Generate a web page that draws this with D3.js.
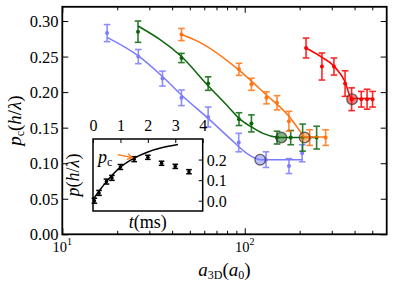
<!DOCTYPE html>
<html>
<head>
<meta charset="utf-8">
<script src="https://cdn.jsdelivr.net/npm/d3@7"></script>
<style>
  body { margin: 0; background: #fff; }
  text { font-family: "Liberation Serif", "Times New Roman", serif; fill: #000; }
</style>
</head>
<body>
<div id="chart"></div>
<script>
// ---- data ----
const yTicks = [0, 0.05, 0.10, 0.15, 0.20, 0.25, 0.30];
const xMajor = [10, 100];
const xMinor = [20, 30, 40, 50, 60, 70, 80, 90, 200, 300, 400, 500];

const blueA   = [17.6, 26.1, 35.4, 45.0, 63.0, 92.7, 130.8, 174.8, 206.4];
const blueP   = [0.283, 0.250, 0.219, 0.192, 0.165, 0.129, 0.105, 0.096, 0.114];
const blueErr = [0.012, 0.010, 0.0105, 0.011, 0.014, 0.013, 0.011, 0.0105, 0.012];
const blueFitA = [17.6, 26.1, 35.4, 45, 63, 82.8, 100, 112, 121.6, 206];
const blueFitP = [0.277, 0.251, 0.222, 0.196, 0.163, 0.135, 0.116, 0.108, 0.105, 0.105];
const blueCrit = [121.6, 0.105];

const greenA   = [26.0, 45.0, 63.0, 93.0, 108.8, 150.3, 178.6, 207.7, 247.8];
const greenP   = [0.285, 0.248, 0.212, 0.162, 0.156, 0.136, 0.136, 0.136, 0.136];
const greenErr = [0.015, 0.0065, 0.0095, 0.009, 0.012, 0.009, 0.010, 0.019, 0.016];
const greenFitA = [26, 45, 63, 82.8, 93, 108.8, 125.9, 150, 158.8, 248];
const greenFitP = [0.293, 0.250, 0.209, 0.177, 0.163, 0.151, 0.142, 0.1365, 0.136, 0.136];
const greenCrit = [158.8, 0.136];

const orangeA   = [45.0, 93.0, 108.8, 131.5, 150.3, 174.6, 226.9, 277.6];
const orangeP   = [0.281, 0.232, 0.211, 0.192, 0.185, 0.159, 0.136, 0.136];
const orangeErr = [0.0085, 0.0085, 0.0085, 0.0085, 0.010, 0.014, 0.011, 0.011];
const orangeFitA = [45, 56.7, 93, 131.5, 174.8, 202.5, 213, 277.6];
const orangeFitP = [0.281, 0.270, 0.231, 0.196, 0.166, 0.144, 0.137, 0.137];
const orangeCrit = [213, 0.136];

const redA   = [216.8, 264.9, 308.3, 354.8, 385.3, 435.4, 468.4, 502];
const redP   = [0.262, 0.236, 0.236, 0.212, 0.190, 0.190, 0.190, 0.190];
const redErr = [0.014, 0.019, 0.012, 0.018, 0.016, 0.011, 0.014, 0.011];
const redFitA = [216.8, 264.9, 308.3, 354.8, 385, 502];
const redFitP = [0.262, 0.249, 0.2367, 0.2146, 0.191, 0.191];
const redCrit = [387.7, 0.190];

const insetTTicks = [0, 1, 2, 3, 4];
const insetPTicks = [0.0, 0.1, 0.2];
const insetT   = [0.05, 0.22, 0.49, 0.69, 1.0, 1.5, 2.0, 2.5, 3.0, 3.5];
const insetP   = [0.0, 0.038, 0.093, 0.111, 0.164, 0.202, 0.211, 0.182, 0.167, 0.141];
const insetErr = [0.012, 0.012, 0.012, 0.012, 0.012, 0.012, 0.010, 0.010, 0.010, 0.010];
const insetFitT = [0, 0.25, 0.5, 1, 1.5, 2, 2.5, 3.1];
const insetFitP = [0.005, 0.052, 0.094, 0.163, 0.207, 0.237, 0.257, 0.273];
const insetPc = [1.5, 0.202];

const series = [
  { color: "#7b7bff", a: blueA, p: blueP, e: blueErr, fa: blueFitA, fp: blueFitP, crit: blueCrit },
  { color: "#0a660a", a: greenA, p: greenP, e: greenErr, fa: greenFitA, fp: greenFitP, crit: greenCrit },
  { color: "#ff7410", a: orangeA, p: orangeP, e: orangeErr, fa: orangeFitA, fp: orangeFitP, crit: orangeCrit },
  { color: "#ff0000", a: redA, p: redP, e: redErr, fa: redFitA, fp: redFitP, crit: redCrit }
];

// ---- layout ----
const width = 394, height = 285;
const plot = { left: 62.3, right: 386.7, top: 6.8, bottom: 234.3 };
const inset = { left: 93, right: 202.7, top: 139, bottom: 211 };

const svg = d3.select("#chart").append("svg")
    .attr("width", width)
    .attr("height", height);

const x = d3.scaleLog().domain([10, 600]).range([plot.left, plot.right]);
const y = d3.scaleLinear().domain([0, 0.32]).range([plot.bottom, plot.top]);

function styleAxis(g) {
  g.select(".domain").remove();
  g.selectAll(".tick line").attr("stroke", "#000").attr("stroke-width", 1);
}

// ticks (inward, all four sides)
svg.append("g").attr("transform", `translate(0,${plot.bottom})`)
   .call(d3.axisBottom(x).tickValues(xMajor).tickSize(-6).tickFormat(""))
   .call(styleAxis);
svg.append("g").attr("transform", `translate(0,${plot.bottom})`)
   .call(d3.axisBottom(x).tickValues(xMinor).tickSize(-3.5).tickFormat(""))
   .call(styleAxis);
svg.append("g").attr("transform", `translate(0,${plot.top})`)
   .call(d3.axisTop(x).tickValues(xMajor).tickSize(-6).tickFormat(""))
   .call(styleAxis);
svg.append("g").attr("transform", `translate(0,${plot.top})`)
   .call(d3.axisTop(x).tickValues(xMinor).tickSize(-3.5).tickFormat(""))
   .call(styleAxis);

svg.append("g").attr("transform", `translate(${plot.left},0)`)
   .call(d3.axisLeft(y).tickValues(yTicks).tickSize(-6).tickPadding(3.8).tickFormat(d3.format(".2f")))
   .call(styleAxis)
   .call(g => g.selectAll("text").attr("font-size", "16.5px").attr("dy", "0.34em")
       .style("font-family", "'Liberation Serif', serif"));
svg.append("g").attr("transform", `translate(${plot.right},0)`)
   .call(d3.axisRight(y).tickValues(yTicks).tickSize(-6).tickFormat(""))
   .call(styleAxis);

// log x labels 10^1, 10^2
const xl = svg.append("g");
xMajor.forEach(v => {
  const t = xl.append("text")
      .attr("x", x(v))
      .attr("y", 251.5)
      .attr("text-anchor", "middle")
      .attr("font-size", "14.5px");
  t.append("tspan").text("10");
  t.append("tspan").attr("font-size", "10px").attr("dy", -6.5).text(Math.round(Math.log10(v)));
});

// axis labels
const xLab = svg.append("text")
    .attr("x", (plot.left + plot.right) / 2)
    .attr("y", 275.5)
    .attr("text-anchor", "middle")
    .attr("font-size", "19px");
xLab.append("tspan").attr("font-style", "italic").text("a");
xLab.append("tspan").attr("font-size", "12px").attr("dy", 3).text("3D");
xLab.append("tspan").attr("dy", -3).text("(");
xLab.append("tspan").attr("font-style", "italic").text("a");
xLab.append("tspan").attr("font-size", "12px").attr("dy", 3).text("0");
xLab.append("tspan").attr("dy", -3).text(")");

const yLab = svg.append("text")
    .attr("transform", `translate(21,${(plot.top + plot.bottom) / 2}) rotate(-90)`)
    .attr("text-anchor", "middle")
    .attr("font-size", "19px");
yLab.append("tspan").attr("font-style", "italic").text("p");
yLab.append("tspan").attr("font-size", "12px").attr("dy", 3).text("c");
yLab.append("tspan").attr("dy", -3).text("(");
yLab.append("tspan").attr("font-style", "italic").text("h");
yLab.append("tspan").text("/");
yLab.append("tspan").attr("font-style", "italic").text("λ");
yLab.append("tspan").text(")");

// ---- series ----
const line = d3.line().curve(d3.curveMonotoneX);

series.forEach(s => {
  const g = svg.append("g");
  const fit = s.fa.map((a, i) => [x(a), y(s.fp[i])]);
  g.append("path")
   .attr("d", line(fit))
   .attr("fill", "none")
   .attr("stroke", s.color)
   .attr("stroke-width", 1.5);

  const pts = s.a.map((a, i) => ({ a: a, p: s.p[i], e: s.e[i] }));
  const eb = g.selectAll("g.eb").data(pts).enter().append("g")
      .attr("stroke", s.color)
      .attr("stroke-width", 1.6)
      .attr("opacity", 0.85);
  eb.append("line")
    .attr("x1", d => x(d.a)).attr("x2", d => x(d.a))
    .attr("y1", d => y(d.p - d.e)).attr("y2", d => y(d.p + d.e));
  eb.append("line")
    .attr("x1", d => x(d.a) - 3.3).attr("x2", d => x(d.a) + 3.3)
    .attr("y1", d => y(d.p - d.e)).attr("y2", d => y(d.p - d.e));
  eb.append("line")
    .attr("x1", d => x(d.a) - 3.3).attr("x2", d => x(d.a) + 3.3)
    .attr("y1", d => y(d.p + d.e)).attr("y2", d => y(d.p + d.e));

  g.selectAll("circle.pt").data(pts).enter().append("circle")
   .attr("class", "pt")
   .attr("cx", d => x(d.a))
   .attr("cy", d => y(d.p))
   .attr("r", 2)
   .attr("fill", s.color);
});

// critical points
series.forEach(s => {
  svg.append("circle")
     .attr("cx", x(s.crit[0]))
     .attr("cy", y(s.crit[1]))
     .attr("r", 5.3)
     .attr("fill", s.color)
     .attr("fill-opacity", 0.5)
     .attr("stroke", "#333")
     .attr("stroke-opacity", 0.7)
     .attr("stroke-width", 1.4);
});

// ---- inset ----
const ix = d3.scaleLinear().domain([0, 4]).range([inset.left, inset.right]);
const iy = d3.scaleLinear().domain([-0.05, 0.3]).range([inset.bottom, inset.top]);

svg.append("rect")
   .attr("x", inset.left).attr("y", inset.top)
   .attr("width", inset.right - inset.left)
   .attr("height", inset.bottom - inset.top)
   .attr("fill", "#fff");

svg.append("g").attr("transform", `translate(0,${inset.top})`)
   .call(d3.axisTop(ix).tickValues(insetTTicks).tickSize(-4).tickPadding(8.3).tickFormat(d3.format("d")))
   .call(styleAxis)
   .call(g => g.selectAll("text").attr("font-size", "16px")
       .style("font-family", "'Liberation Serif', serif"));
svg.append("g").attr("transform", `translate(${inset.right},0)`)
   .call(d3.axisRight(iy).tickValues(insetPTicks).tickSize(-4).tickPadding(4).tickFormat(d3.format(".1f")))
   .call(styleAxis)
   .call(g => g.selectAll("text").attr("font-size", "16px").attr("dy", "0.34em")
       .style("font-family", "'Liberation Serif', serif"));

const ifit = insetFitT.map((t, i) => [ix(t), iy(insetFitP[i])]);
svg.append("path")
   .attr("d", line(ifit))
   .attr("fill", "none")
   .attr("stroke", "#000")
   .attr("stroke-width", 1.5);

const ipts = insetT.map((t, i) => ({ t: t, p: insetP[i], e: insetErr[i] }));
const ieb = svg.selectAll("g.ieb").data(ipts).enter().append("g")
    .attr("stroke", "#000")
    .attr("stroke-width", 1.5);
ieb.append("line")
   .attr("x1", d => ix(d.t)).attr("x2", d => ix(d.t))
   .attr("y1", d => iy(d.p - d.e)).attr("y2", d => iy(d.p + d.e));
ieb.append("line")
   .attr("x1", d => ix(d.t) - 2.8).attr("x2", d => ix(d.t) + 2.8)
   .attr("y1", d => iy(d.p - d.e)).attr("y2", d => iy(d.p - d.e));
ieb.append("line")
   .attr("x1", d => ix(d.t) - 2.8).attr("x2", d => ix(d.t) + 2.8)
   .attr("y1", d => iy(d.p + d.e)).attr("y2", d => iy(d.p + d.e));
svg.selectAll("circle.ipt").data(ipts).enter().append("circle")
   .attr("cx", d => ix(d.t))
   .attr("cy", d => iy(d.p))
   .attr("r", 1.8)
   .attr("fill", "#000");

// p_c label and arrow
const pc = svg.append("text")
    .attr("x", ix(0.18))
    .attr("y", iy(insetPc[1]) + 3.5)
    .attr("font-size", "18px");
pc.append("tspan").attr("font-style", "italic").text("p");
pc.append("tspan").attr("font-size", "12px").attr("dy", 3).text("c");

const tipX = ix(insetPc[0]) - 1.5, tipY = iy(insetPc[1]) - 1.5;
const tailX = ix(0.9), tailY = iy(insetPc[1]) - 4.5;
const ang = Math.atan2(tipY - tailY, tipX - tailX);
const hl = 6;
svg.append("path")
   .attr("d", `M${tailX},${tailY}L${tipX},${tipY}` +
              `M${tipX - hl * Math.cos(ang - 0.5)},${tipY - hl * Math.sin(ang - 0.5)}L${tipX},${tipY}` +
              `L${tipX - hl * Math.cos(ang + 0.5)},${tipY - hl * Math.sin(ang + 0.5)}`)
   .attr("fill", "none")
   .attr("stroke", "#ff7410")
   .attr("stroke-width", 1.2);

// inset labels
const tLab = svg.append("text")
    .attr("x", (inset.left + inset.right) / 2)
    .attr("y", 228)
    .attr("text-anchor", "middle")
    .attr("font-size", "18px");
tLab.append("tspan").attr("font-style", "italic").text("t");
tLab.append("tspan").text("(ms)");

const pLab = svg.append("text")
    .attr("transform", `translate(79,${(inset.top + inset.bottom) / 2}) rotate(-90)`)
    .attr("text-anchor", "middle")
    .attr("font-size", "18px");
pLab.append("tspan").attr("font-style", "italic").text("p");
pLab.append("tspan").text("(");
pLab.append("tspan").attr("font-style", "italic").text("h");
pLab.append("tspan").text("/");
pLab.append("tspan").attr("font-style", "italic").text("λ");
pLab.append("tspan").text(")");

// frames
svg.append("rect")
   .attr("x", inset.left).attr("y", inset.top)
   .attr("width", inset.right - inset.left)
   .attr("height", inset.bottom - inset.top)
   .attr("fill", "none")
   .attr("stroke", "#000")
   .attr("stroke-width", 1.5);
svg.append("rect")
   .attr("x", plot.left).attr("y", plot.top)
   .attr("width", plot.right - plot.left)
   .attr("height", plot.bottom - plot.top)
   .attr("fill", "none")
   .attr("stroke", "#000")
   .attr("stroke-width", 1.8);
</script>
</body>
</html>
